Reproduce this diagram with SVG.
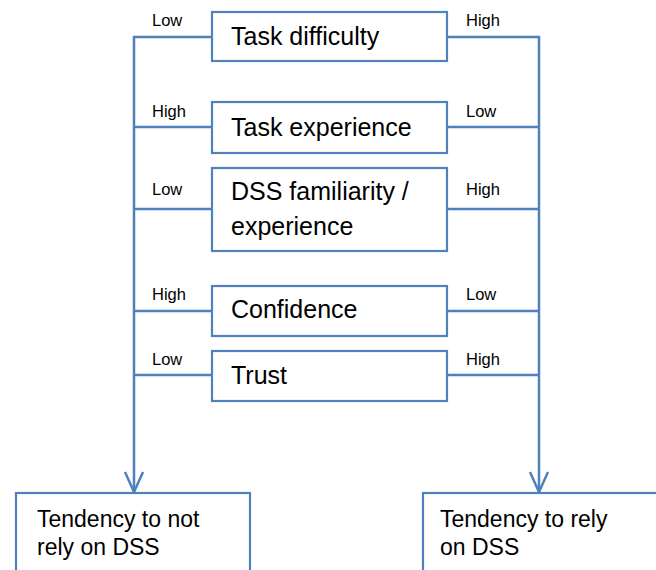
<svg xmlns="http://www.w3.org/2000/svg" width="656" height="570" viewBox="0 0 656 570">
<style>
.box{fill:#fff;stroke:#4F81BD;stroke-width:2.2}
.t{font-family:"Liberation Sans",Arial,sans-serif;font-size:25px;fill:#000}
.b{font-family:"Liberation Sans",Arial,sans-serif;font-size:23px;fill:#000}
.s{font-family:"Liberation Sans",Arial,sans-serif;font-size:16.5px;fill:#000}
.c{fill:none;stroke:#4F81BD;stroke-width:2.5}
</style>
<defs>
<marker id="arr" markerWidth="24" markerHeight="22" viewBox="0 0 24 22" refX="22" refY="11" orient="auto" markerUnits="userSpaceOnUse">
<path d="M2,2 L22,11 L2,20" fill="none" stroke="#4F81BD" stroke-width="2.5"/>
</marker>
</defs>
<g id="connectors">
<path class="c" d="M212,37 H134 V492" marker-end="url(#arr)"/>
<path class="c" d="M447,37 H539 V492" marker-end="url(#arr)"/>
<path class="c" d="M134,127 H212 M447,127 H539"/>
<path class="c" d="M134,209 H212 M447,209 H539"/>
<path class="c" d="M134,311 H212 M447,311 H539"/>
<path class="c" d="M134,375 H212 M447,375 H539"/>
</g>
<g id="labels">
<text class="s" x="152" y="26">Low</text>
<text class="s" x="466" y="26">High</text>
<text class="s" x="152" y="117">High</text>
<text class="s" x="466" y="117">Low</text>
<text class="s" x="152" y="195">Low</text>
<text class="s" x="466" y="195">High</text>
<text class="s" x="152" y="300">High</text>
<text class="s" x="466" y="300">Low</text>
<text class="s" x="152" y="365">Low</text>
<text class="s" x="466" y="365">High</text>
</g>
<g id="task-difficulty">
<rect class="box" x="212" y="12" width="235" height="49"/>
<text class="t" x="231" y="45">Task difficulty</text>
</g>
<g id="task-experience">
<rect class="box" x="212" y="102" width="235" height="51"/>
<text class="t" x="231" y="136">Task experience</text>
</g>
<g id="dss-familiarity">
<rect class="box" x="212" y="168" width="235" height="83"/>
<text class="t" x="231" y="200">DSS familiarity /</text>
<text class="t" x="231" y="235">experience</text>
</g>
<g id="confidence">
<rect class="box" x="212" y="286" width="235" height="50"/>
<text class="t" x="231" y="318">Confidence</text>
</g>
<g id="trust">
<rect class="box" x="212" y="351" width="235" height="50"/>
<text class="t" x="231" y="384">Trust</text>
</g>
<g id="not-rely">
<rect class="box" x="16" y="493" width="234" height="90"/>
<text class="b" x="37" y="527">Tendency to not</text>
<text class="b" x="37" y="555">rely on DSS</text>
</g>
<g id="rely">
<rect class="box" x="423" y="493" width="240" height="90"/>
<text class="b" x="440" y="527">Tendency to rely</text>
<text class="b" x="440" y="555">on DSS</text>
</g>
</svg>
